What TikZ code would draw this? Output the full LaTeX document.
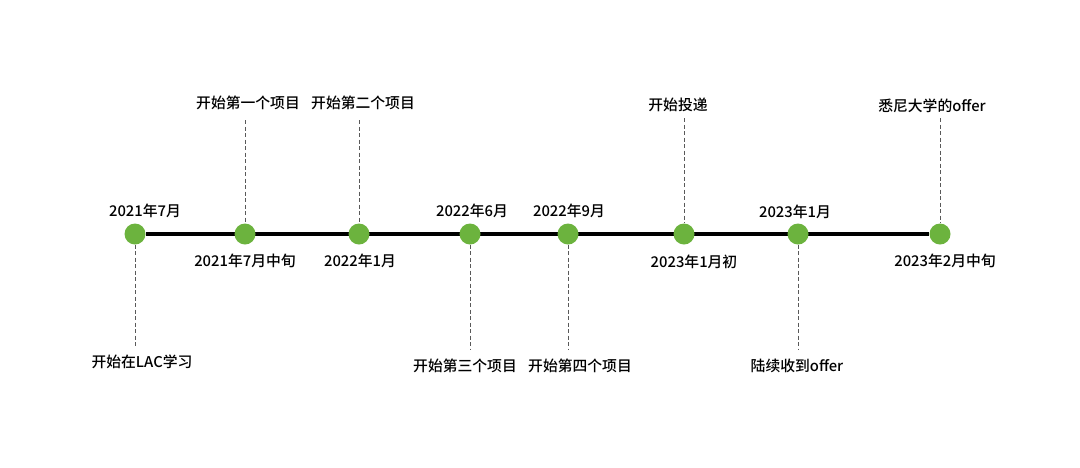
\documentclass[tikz,border=0pt]{standalone}
\usepackage{fontspec}
\setmainfont{Noto Sans CJK SC}[UprightFont=* Medium]
\usetikzlibrary{positioning,backgrounds}
\definecolor{dotgreen}{HTML}{6CB33E}

\begin{document}
\begin{tikzpicture}[
  x=1pt, y=-1pt,
  font=\fontsize{14.8pt}{16pt}\selectfont,
  dot/.style={circle, fill=dotgreen, minimum size=21pt, inner sep=0pt},
  datelbl/.style={inner sep=2pt},
  eventlbl/.style={inner sep=2pt},
  link/.style={gray!70!black, dashed, dash pattern=on 4pt off 2.5pt, line width=0.8pt}
]
\useasboundingbox (0,0) rectangle (1080,467);
% events on the line
\node[dot] (d1) at (135,234) {};
\node[dot] (d2) at (245,234) {};
\node[dot] (d3) at (359,234) {};
\node[dot] (d4) at (470,234) {};
\node[dot] (d5) at (568,234) {};
\node[dot] (d6) at (684,234) {};
\node[dot] (d7) at (798,234) {};
\node[dot] (d8) at (940,234) {};
% dates
\node[datelbl] (t1) at (145,211) {2021年7月};
\node[datelbl] (t2) at (245,261) {2021年7月中旬};
\node[datelbl] (t3) at (360,261) {2022年1月};
\node[datelbl] (t4) at (472,211) {2022年6月};
\node[datelbl] (t5) at (569,211) {2022年9月};
\node[datelbl] (t6) at (694,262) {2023年1月初};
\node[datelbl] (t7) at (795,212) {2023年1月};
\node[datelbl] (t8) at (945,261) {2023年2月中旬};
% what happened
\node[eventlbl] (e1) at (142,362) {开始在LAC学习};
\node[eventlbl] (e2) at (248,103) {开始第一个项目};
\node[eventlbl] (e3) at (363,103) {开始第二个项目};
\node[eventlbl] (e4) at (465,366) {开始第三个项目};
\node[eventlbl] (e5) at (580,366) {开始第四个项目};
\node[eventlbl] (e6) at (678,105) {开始投递};
\node[eventlbl] (e7) at (797,366) {陆续收到offer};
\node[eventlbl] (e8) at (932,106) {悉尼大学的offer};
% dashed links
\draw[link] (d1) -- (d1 |- 0,346);
\draw[link] (d2 |- 0,120) -- (d2);
\draw[link] (d3 |- 0,120) -- (d3);
\draw[link] (d4) -- (d4 |- 0,350);
\draw[link] (d5) -- (d5 |- 0,350);
\draw[link] (d6 |- 0,118) -- (d6);
\draw[link] (d7) -- (d7 |- 0,350);
\draw[link] (d8 |- 0,118) -- (d8);
% main line
\begin{scope}[on background layer]
\draw[line width=3.5pt] (d1) -- (d8);
\end{scope}
\end{tikzpicture}
\end{document}
